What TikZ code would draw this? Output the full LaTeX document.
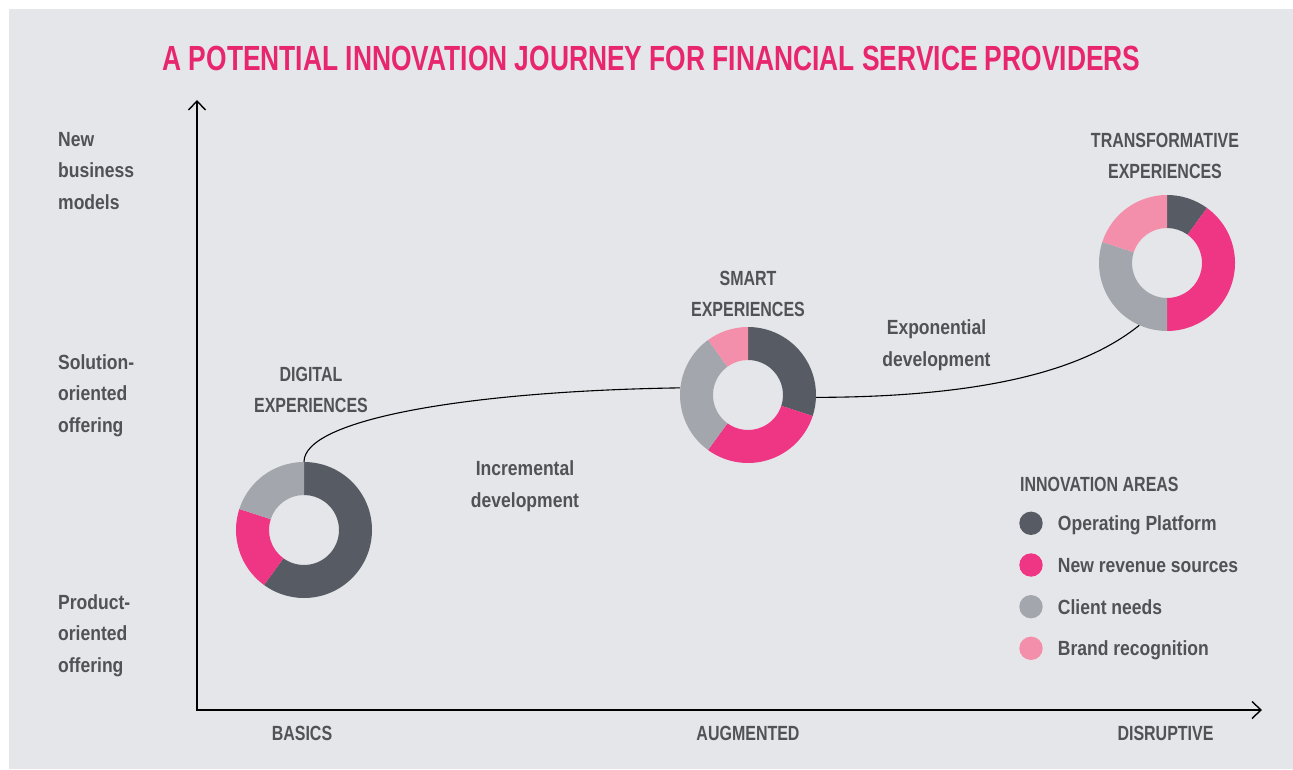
\documentclass[tikz,border=0pt]{standalone}
\usepackage{fontspec}
\setmainfont{Liberation Sans}[FakeStretch=0.855]
\newfontfamily\capsfont{Liberation Sans}[FakeStretch=0.78]
\newfontfamily\titlefont{Liberation Sans}[FakeStretch=0.756]
\usepackage{tikz}
\usetikzlibrary{arrows.meta, positioning, calc}

\definecolor{bgpanel}{HTML}{E5E6E9}
\definecolor{txtgray}{HTML}{505256}
\definecolor{titlepink}{HTML}{E8266F}
\definecolor{opdark}{HTML}{575B63}
\definecolor{revpink}{HTML}{EF3684}
\definecolor{clgray}{HTML}{A3A7AD}
\definecolor{brpink}{HTML}{F48FAB}

\begin{document}
\begin{tikzpicture}[x=1pt, y=1pt,
    lbl/.style={text=txtgray, font=\fontsize{20.5}{31.5}\selectfont\bfseries, inner sep=0pt},
    caps/.style={text=txtgray, font=\capsfont\fontsize{20.5}{31.5}\selectfont\bfseries, inner sep=0pt, align=center},
    donut/.style={circle, minimum size=136pt, inner sep=0pt},
    legdot/.style={circle, minimum size=23.4pt, inner sep=0pt},
    axis/.style={line width=1.4pt, {Straight Barb[length=9pt, width=17pt]}-{Straight Barb[length=9pt, width=17pt]}},
    path/.style={line width=1.1pt}
]
\useasboundingbox (0,0) rectangle (1293,769);
\fill[bgpanel] (9,0) rectangle (1293,760);

% Title
\node[text=titlepink, font=\titlefont\fontsize{34.9}{40}\selectfont\bfseries, inner sep=0pt, anchor=base] (title) at (651.5,698)
  {A POTENTIAL INNOVATION JOURNEY FOR FINANCIAL SERVICE PROVIDERS};

% Axes
\coordinate (ytop) at (197,669);
\coordinate (xend) at (1262,59);
\draw[axis] (ytop) |- (xend);

% Axis labels
\node[lbl, align=left, anchor=west] (ynew) at (58,598) {New\\business\\models};
\node[lbl, align=left, anchor=west] (ysol) at (58,373.6) {Solution-\\oriented\\offering};
\node[lbl, align=left, anchor=west] (yprod) at (58,133.6) {Product-\\oriented\\offering};
\node[caps, anchor=base] (xbas) at (302,28.5) {BASICS};
\node[caps, anchor=base] (xaug) at (748,28.5) {AUGMENTED};
\node[caps, anchor=base] (xdis) at (1165.5,28.5) {DISRUPTIVE};

% Donuts
\node[donut] (dig) at (304,239) {};
\node[donut] (smart) at (748,374) {};
\node[donut] (trans) at (1167,506) {};

\begin{scope}[shift={(dig.center)}]
\foreach \a/\b/\c in {90/-126/opdark, 234/162/revpink, 162/90/clgray} {
    \fill[\c] (\a:68pt) arc[start angle=\a, end angle=\b, radius=68pt] -- (\b:35pt) arc[start angle=\b, end angle=\a, radius=35pt] -- cycle;
}
\end{scope}

\begin{scope}[shift={(smart.center)}]
\foreach \a/\b/\c in {90/-18/opdark, -18/-126/revpink, 234/126/clgray, 126/90/brpink} {
    \fill[\c] (\a:68pt) arc[start angle=\a, end angle=\b, radius=68pt] -- (\b:35pt) arc[start angle=\b, end angle=\a, radius=35pt] -- cycle;
}
\end{scope}

\begin{scope}[shift={(trans.center)}]
\foreach \a/\b/\c in {90/54/opdark, 54/-90/revpink, 270/162/clgray, 162/90/brpink} {
    \fill[\c] (\a:68pt) arc[start angle=\a, end angle=\b, radius=68pt] -- (\b:35pt) arc[start angle=\b, end angle=\a, radius=35pt] -- cycle;
}
\end{scope}

% Journey
\draw[path] (dig.north) .. controls (304,350) and (470,378) .. (smart.174);
\draw[path] (smart.-2) .. controls (1000,372) and (1090,404) .. (trans.246.5);

% Stage labels
\node[caps] (digl) at (311,379.3) {DIGITAL\\EXPERIENCES};
\node[caps] (smartl) at (748,475) {SMART\\EXPERIENCES};
\node[caps] (transl) at (1165,613) {TRANSFORMATIVE\\EXPERIENCES};
\node[lbl, align=center] (incr) at (525,283) {Incremental\\development};
\node[lbl, align=center] (expo) at (936.5,424) {Exponential\\development};

% Legend
\node[caps, anchor=base west] (legt) at (1020,277.5) {INNOVATION AREAS};
\foreach \i/\y/\c/\t in {1/245.7/opdark/Operating Platform, 2/204/revpink/New revenue sources, 3/162.3/clgray/Client needs, 4/120.7/brpink/Brand recognition} {
    \node[legdot, fill=\c] (leg\i) at (1031,\y) {};
    \node[lbl, anchor=base west] (legl\i) at ([xshift=14.8pt, yshift=-7.3pt]leg\i.east) {\t};
}

\end{tikzpicture}
\end{document}
